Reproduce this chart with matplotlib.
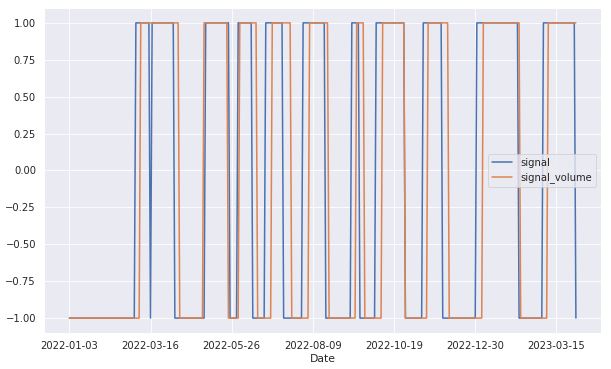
import matplotlib
matplotlib.use("Agg")
import matplotlib.pyplot as plt
import seaborn as sns
import pandas as pd
import numpy as np

sns.set_theme(rc={'xtick.labelsize': 11.8, 'ytick.labelsize': 11.8,
                  'legend.fontsize': 11.8, 'axes.labelsize': 12.8,
                  'lines.linewidth': 1.8})

# NYSE holidays inside the range (trading-day index)
holidays = ['2022-01-17', '2022-02-21', '2022-04-15', '2022-05-30', '2022-06-20',
            '2022-07-04', '2022-09-05', '2022-11-24', '2022-12-26',
            '2023-01-02', '2023-01-16', '2023-02-20']
start_date = '2022-01-03'
end_date = '2023-03-31'

# trading-day positions where each signal flips sign (both start at -1)
signal_flips = [41, 50, 51, 65, 84, 99, 104, 113, 121, 132, 144, 158, 174,
                179, 189, 207, 218, 230, 251, 277, 292, 312]
volume_flips = [44, 68, 83, 98, 105, 116, 125, 137, 148, 160, 177, 182, 193,
                207, 221, 234, 255, 278, 295]

dates = pd.bdate_range(start_date, end_date, freq='C', holidays=holidays)
n = len(dates)


def build(flips, first=-1):
    vals = np.empty(n)
    cur = first
    prev = 0
    for f in flips + [n]:
        vals[prev:f] = cur
        cur = -cur
        prev = f
    return vals


df = pd.DataFrame({'signal': build(signal_flips),
                   'signal_volume': build(volume_flips)},
                  index=pd.Index(dates.strftime('%Y-%m-%d'), name='Date'))

fig, ax = plt.subplots(figsize=(10, 369 / 61.1), dpi=61.1)
fig.subplots_adjust(left=0.072, right=0.984, top=0.978, bottom=0.098)

x = np.arange(n)
for col in df.columns:
    ax.plot(x, df[col].values, label=col)

ticks = list(range(0, n, 50))
ax.set_xticks(ticks)
ax.set_xticklabels([df.index[i] for i in ticks])
ax.set_xlabel('Date')
ax.legend(loc='center right')

fig.savefig('out.png', dpi=61.1)
